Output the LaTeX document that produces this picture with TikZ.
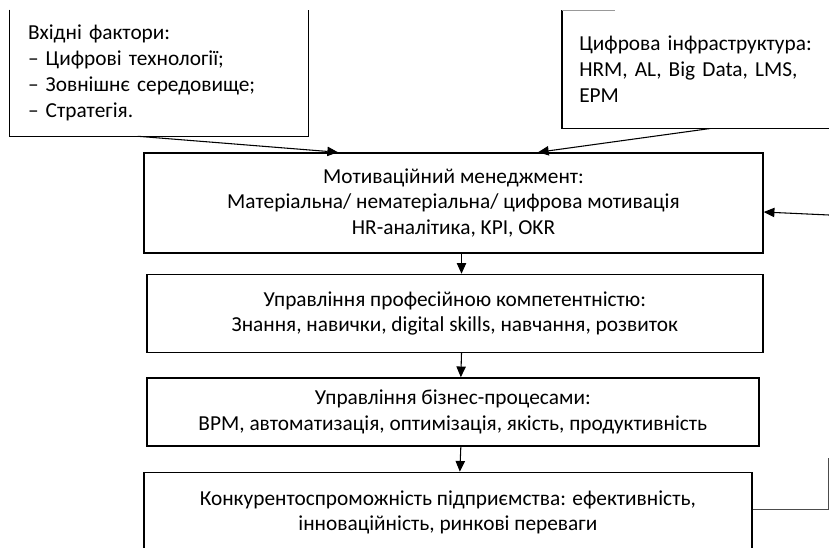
\documentclass[tikz,border=0pt]{standalone}
\usepackage{fontspec}
\setmainfont{Carlito}
\usetikzlibrary{arrows.meta,positioning,calc}

\begin{document}
\begin{tikzpicture}[x=0.75pt, y=-0.75pt,
    box/.style={draw, line width=1.1pt, rectangle, align=center, font=\fontsize{16pt}{19pt}\selectfont},
    plain/.style={rectangle, align=left, font=\fontsize{16pt}{19.5pt}\selectfont},
    arr/.style={-{Triangle[length=8pt,width=7pt]}, line width=0.8pt}]
    \clip (0,0) rectangle (829,547);

    % Input factors
    \node [plain, text width=196.5pt, inner xsep=13.5pt, minimum height=94.5pt] (inp) at (159,73) {Вхідні фактори:\\– Цифрові технології;\\– Зовнішнє середовище;\\– Стратегія.};
    \draw [line width=1.1pt] (inp.north west) -- (inp.south west) -- (inp.south east) -- (inp.north east);

    % Digital infrastructure
    \node [plain, anchor=north west, text width=182.25pt, inner xsep=12.75pt, minimum height=88.5pt] (infra) at (562,10) {Цифрова інфраструктура:\\\makebox[182.25pt][s]{HRM, AL, Big Data, LMS,}\\EPM};
    \draw [line width=1.1pt] (infra.north west) -- (infra.south west) -- (infra.south east);
    \draw [black!40, line width=0.5pt] (infra.north west) -- ++(53,0);

    % Main chain
    \node [box, minimum width=464.25pt, minimum height=75pt] (mot) at (453.5,203) {Мотиваційний менеджмент:\\Матеріальна/ нематеріальна/ цифрова мотивація\\HR-аналітика, KPI, OKR};
    \node [box, minimum width=462pt, minimum height=58.5pt, below=15pt of mot, xshift=1pt] (prof) {Управління професійною компетентністю:\\Знання, навички, digital skills, навчання, розвиток};
    \node [box, minimum width=459pt, minimum height=51pt, below=18pt of prof, xshift=-1.5pt] (proc) {Управління бізнес-процесами:\\BPM, автоматизація, оптимізація, якість, продуктивність};
    \node [box, minimum width=456pt, minimum height=60pt, below=18.75pt of proc, xshift=-3.75pt] (comp) {Конкурентоспроможність підприємства: ефективність,\\інноваційність, ринкові переваги};

    % Inputs to motivation
    \draw [arr] ([xshift=96pt]inp.south west) -- ([xshift=-86.6pt]mot.north);
    \draw [arr] ([xshift=111pt]infra.south west) -- ([xshift=63.4pt]mot.north);

    % Chain arrows
    \draw [arr] ([xshift=6pt]mot.south) -- ([xshift=5pt]prof.north);
    \draw [arr] ([xshift=5pt]prof.south) -- ([xshift=6pt]proc.north);
    \draw [arr] ([xshift=6pt]proc.south) -- ([xshift=9pt]comp.north);

    % Feedback
    \coordinate (fbin) at (840,215.5);
    \coordinate (fbcorner) at (828,509);
    \coordinate (fbtop) at (828,458);
    \draw [arr] (fbin) -- ([yshift=-6.75pt]mot.east);
    \draw [black!70, line width=0.6pt] (comp.east |- fbcorner) -- (fbcorner) -- (fbtop);
\end{tikzpicture}
\end{document}
